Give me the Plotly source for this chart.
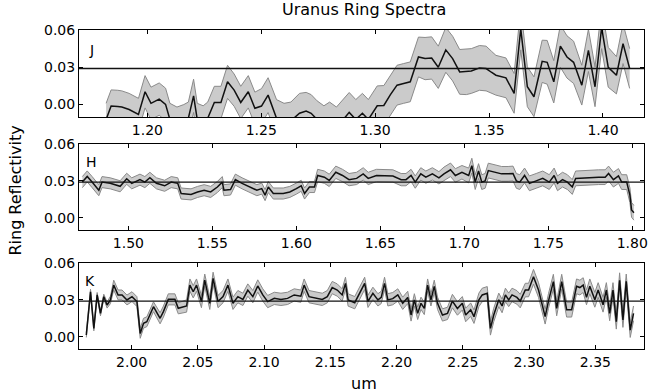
import plotly.graph_objects as go

# ---------------- J band ----------------
j_wave = [1.1819, 1.1841, 1.1870, 1.1888, 1.1920, 1.1961, 1.1990, 1.2016, 1.2052, 1.2080,
          1.2099, 1.2130, 1.2160, 1.2180, 1.2203, 1.2219, 1.2245, 1.2265, 1.2294, 1.2323,
          1.2352, 1.2381, 1.2410, 1.2443, 1.2472, 1.2501, 1.2530, 1.2567, 1.2600, 1.2630,
          1.2668, 1.2697, 1.2719, 1.2745, 1.2775, 1.2800, 1.2830, 1.2860, 1.2886, 1.2915,
          1.2944, 1.2970, 1.3009, 1.3038, 1.3067, 1.3096, 1.3125, 1.3154, 1.3190, 1.3219,
          1.3248, 1.3277, 1.3310, 1.3340, 1.3371, 1.3400, 1.3422, 1.3458, 1.3487, 1.3510,
          1.3530, 1.3574, 1.3610, 1.3639, 1.3668, 1.3697, 1.3733, 1.3755, 1.3784, 1.3813,
          1.3842, 1.3871, 1.3907, 1.3936, 1.3965, 1.3994, 1.4023, 1.4059, 1.4088, 1.4117]
j_refl = [-0.012, -0.0012, -0.0015, -0.002, -0.004, -0.008, 0.0103, 0.001, 0.0044, 0.0002,
          -0.012, -0.015, -0.013, -0.011, 0.007, -0.012, -0.014, -0.011, 0.0017, 0.0017,
          0.0183, 0.0116, 0.0017, 0.0103, -0.003, -0.0012, 0.0076, -0.011, -0.014, -0.013,
          -0.007, -0.0052, -0.007, -0.012, -0.016, -0.013, -0.017, -0.012, -0.0063, -0.012,
          -0.007, -0.012, -0.001, -0.0007, 0.008, 0.0156, 0.017, 0.0183, 0.0383, 0.037,
          0.0375, 0.030, 0.044, 0.037, 0.0263, 0.0265, 0.027, 0.0295, 0.029, 0.026,
          0.0236, 0.0215, 0.009, 0.061, 0.0143, 0.0063, 0.0348, 0.034, 0.0183, 0.047,
          0.0383, 0.034, 0.0156, 0.0436, 0.0143, 0.062, 0.030, 0.0236, 0.049, 0.029]
j_err = [0.013, 0.013, 0.013, 0.013, 0.013, 0.013, 0.013, 0.013, 0.013, 0.013,
         0.013, 0.013, 0.013, 0.013, 0.0134, 0.013, 0.013, 0.013, 0.013, 0.013,
         0.0133, 0.013, 0.013, 0.013, 0.013, 0.014, 0.014, 0.015, 0.015, 0.015,
         0.016, 0.015, 0.015, 0.015, 0.015, 0.015, 0.015, 0.016, 0.016, 0.016,
         0.016, 0.016, 0.016, 0.016, 0.016, 0.016, 0.016, 0.016, 0.016, 0.017,
         0.017, 0.017, 0.018, 0.018, 0.018, 0.0185, 0.018, 0.018, 0.018, 0.017,
         0.016, 0.016, 0.016, 0.017, 0.016, 0.016, 0.017, 0.0176, 0.017, 0.017,
         0.017, 0.017, 0.016, 0.017, 0.016, 0.017, 0.016, 0.015, 0.016, 0.016]

# ---------------- H band ----------------
h_wave = [1.4726, 1.4755, 1.4784, 1.4824, 1.4843, 1.4892, 1.4951, 1.4990, 1.5020, 1.5069,
          1.5098, 1.5128, 1.5167, 1.5216, 1.5255, 1.5294, 1.5314, 1.5373, 1.5412, 1.5451,
          1.5490, 1.5530, 1.5559, 1.5569, 1.5608, 1.5637, 1.5677, 1.5726, 1.5765, 1.5794,
          1.5814, 1.5833, 1.5863, 1.5922, 1.5961, 1.6000, 1.6029, 1.6049, 1.6078, 1.6108,
          1.6127, 1.6167, 1.6196, 1.6235, 1.6275, 1.6314, 1.6359, 1.6398, 1.6428, 1.6477,
          1.6526, 1.6575, 1.6624, 1.6653, 1.6683, 1.6708, 1.6741, 1.6771, 1.6810, 1.6849,
          1.6879, 1.6918, 1.6947, 1.6986, 1.7026, 1.7045, 1.7065, 1.7085, 1.7104, 1.7124,
          1.7143, 1.7183, 1.7222, 1.7261, 1.7290, 1.7310, 1.7330, 1.7359, 1.7388, 1.7428,
          1.7467, 1.7506, 1.7535, 1.7555, 1.7585, 1.7614, 1.7643, 1.7663, 1.7712, 1.7751,
          1.7800, 1.7839, 1.7859, 1.7888, 1.7918, 1.7937, 1.7967, 1.7986, 1.7996, 1.8010]
h_refl = [0.029, 0.0336, 0.029, 0.0224, 0.029, 0.028, 0.0256, 0.0317, 0.028, 0.031,
          0.029, 0.0325, 0.028, 0.026, 0.029, 0.028, 0.0197, 0.019, 0.021, 0.0224,
          0.021, 0.025, 0.029, 0.0224, 0.023, 0.031, 0.028, 0.025, 0.0224, 0.0237,
          0.0184, 0.025, 0.0197, 0.0197, 0.021, 0.0237, 0.026, 0.0197, 0.025, 0.025,
          0.0344, 0.033, 0.0304, 0.037, 0.0344, 0.031, 0.032, 0.0357, 0.032, 0.0344,
          0.034, 0.034, 0.031, 0.031, 0.0344, 0.029, 0.0357, 0.033, 0.0357, 0.0325,
          0.0357, 0.039, 0.0344, 0.037, 0.0344, 0.0424, 0.029, 0.038, 0.029, 0.030,
          0.0384, 0.037, 0.0357, 0.0357, 0.036, 0.030, 0.029, 0.0344, 0.028, 0.030,
          0.032, 0.029, 0.0344, 0.028, 0.031, 0.029, 0.025, 0.032, 0.0325, 0.0325,
          0.033, 0.033, 0.036, 0.031, 0.034, 0.029, 0.029, 0.0184, 0.0064, 0.004]
h_err = [0.0045, 0.0045, 0.0045, 0.0045, 0.0045, 0.0045, 0.0045, 0.0045, 0.0045, 0.0045,
         0.0045, 0.0045, 0.0045, 0.0045, 0.0045, 0.0045, 0.0045, 0.0045, 0.0045, 0.0045,
         0.0045, 0.0045, 0.0045, 0.0045, 0.0045, 0.0045, 0.0045, 0.0045, 0.0045, 0.0045,
         0.0045, 0.0045, 0.0045, 0.0045, 0.0045, 0.0045, 0.0045, 0.0045, 0.0045, 0.0045,
         0.005, 0.005, 0.005, 0.005, 0.005, 0.005, 0.005, 0.005, 0.005, 0.005,
         0.005, 0.005, 0.005, 0.005, 0.005, 0.005, 0.005, 0.005, 0.005, 0.005,
         0.0055, 0.0055, 0.0055, 0.0055, 0.006, 0.006, 0.006, 0.006, 0.006, 0.006,
         0.006, 0.006, 0.006, 0.006, 0.006, 0.006, 0.006, 0.006, 0.006, 0.006,
         0.006, 0.006, 0.006, 0.006, 0.006, 0.006, 0.006, 0.006, 0.006, 0.006,
         0.006, 0.006, 0.006, 0.006, 0.006, 0.006, 0.006, 0.006, 0.006, 0.006]

# ---------------- K band ----------------
k_wave = [1.9658, 1.9690, 1.9715, 1.9740, 1.9765, 1.9790, 1.9815, 1.9840, 1.9865, 1.9898,
          1.9928, 1.9965, 2.0003, 2.0040, 2.0065, 2.0090, 2.0115, 2.0165, 2.0215, 2.0240,
          2.0277, 2.0327, 2.0352, 2.0415, 2.0440, 2.0465, 2.0490, 2.0527, 2.0552, 2.0590,
          2.0615, 2.0652, 2.0690, 2.0727, 2.0765, 2.0802, 2.0840, 2.0877, 2.0915, 2.0952,
          2.0990, 2.1027, 2.1077, 2.1127, 2.1177, 2.1227, 2.1277, 2.1302, 2.1339, 2.1389,
          2.1439, 2.1477, 2.1514, 2.1552, 2.1589, 2.1614, 2.1634, 2.1684, 2.1759, 2.1784,
          2.1821, 2.1859, 2.1884, 2.1909, 2.1934, 2.1971, 2.2009, 2.2046, 2.2084, 2.2109,
          2.2134, 2.2159, 2.2184, 2.2209, 2.2234, 2.2259, 2.2284, 2.2309, 2.2346, 2.2384,
          2.2421, 2.2459, 2.2496, 2.2521, 2.2559, 2.2584, 2.2621, 2.2646, 2.2684, 2.2708,
          2.2733, 2.2771, 2.2796, 2.2821, 2.2846, 2.2871, 2.2908, 2.2933, 2.2971, 2.2996,
          2.3033, 2.3071, 2.3121, 2.3146, 2.3183, 2.3208, 2.3246, 2.3283, 2.3321, 2.3358,
          2.3383, 2.3408, 2.3433, 2.3458, 2.3496, 2.3521, 2.3558, 2.3583, 2.3608, 2.3633,
          2.3658, 2.3683, 2.3708, 2.3733, 2.3763, 2.3788]
k_refl = [0.0014, 0.0366, 0.0068, 0.034, 0.019, 0.0326, 0.0258, 0.0299, 0.042, 0.034,
          0.034, 0.0299, 0.0326, 0.0286, 0.0027, 0.011, 0.0122, 0.0244, 0.015, 0.0204,
          0.0304, 0.0304, 0.0231, 0.025, 0.042, 0.0366, 0.042, 0.0286, 0.046, 0.0272,
          0.0475, 0.0286, 0.0326, 0.042, 0.0272, 0.0326, 0.0304, 0.038, 0.0326, 0.0413,
          0.034, 0.0286, 0.0312, 0.0304, 0.0312, 0.034, 0.033, 0.042, 0.0326, 0.0312,
          0.0304, 0.0326, 0.040, 0.038, 0.034, 0.0434, 0.0299, 0.0277, 0.0434, 0.0288,
          0.0353, 0.030, 0.032, 0.0434, 0.030, 0.031, 0.034, 0.0272, 0.032, 0.0177,
          0.030, 0.019, 0.0272, 0.023, 0.042, 0.030, 0.041, 0.0272, 0.0177, 0.019,
          0.029, 0.023, 0.0272, 0.0177, 0.022, 0.0163, 0.030, 0.034, 0.0353, 0.0068,
          0.0177, 0.030, 0.025, 0.034, 0.030, 0.034, 0.032, 0.029, 0.038, 0.038,
          0.0488, 0.038, 0.0163, 0.029, 0.0448, 0.023, 0.0448, 0.022, 0.022, 0.041,
          0.040, 0.042, 0.032, 0.041, 0.030, 0.038, 0.026, 0.038, 0.019, 0.038,
          0.0122, 0.046, 0.0136, 0.045, 0.0054, 0.019]
k_err = [0.002, 0.002, 0.002, 0.002, 0.002, 0.002, 0.0025, 0.003, 0.004, 0.004,
         0.004, 0.004, 0.004, 0.004, 0.004, 0.004, 0.004, 0.004, 0.0045, 0.0045,
         0.0045, 0.0045, 0.0045, 0.005, 0.005, 0.005, 0.005, 0.005, 0.005, 0.005,
         0.005, 0.005, 0.005, 0.005, 0.005, 0.005, 0.005, 0.005, 0.005, 0.005,
         0.005, 0.005, 0.005, 0.005, 0.005, 0.005, 0.005, 0.005, 0.005, 0.005,
         0.005, 0.005, 0.005, 0.005, 0.005, 0.005, 0.005, 0.005, 0.005, 0.005,
         0.005, 0.005, 0.005, 0.005, 0.005, 0.005, 0.005, 0.005, 0.005, 0.005,
         0.005, 0.005, 0.005, 0.005, 0.005, 0.005, 0.005, 0.005, 0.005, 0.005,
         0.0055, 0.0055, 0.0055, 0.0055, 0.0055, 0.0055, 0.0055, 0.0055, 0.0055, 0.0055,
         0.0055, 0.0055, 0.0055, 0.0055, 0.0055, 0.0055, 0.0055, 0.0055, 0.0055, 0.0055,
         0.006, 0.006, 0.006, 0.006, 0.006, 0.006, 0.006, 0.006, 0.006, 0.006,
         0.006, 0.006, 0.006, 0.006, 0.006, 0.006, 0.006, 0.006, 0.006, 0.006,
         0.006, 0.006, 0.006, 0.006, 0.006, 0.006]

band_names = ["J", "H", "K"]
ring_mean = [0.029, 0.029, 0.029]
x_ranges = [[1.17, 1.418], [1.4706, 1.807], [1.9603, 2.3867]]
x_ticks = [[1.20, 1.25, 1.30, 1.35, 1.40],
           [1.50, 1.55, 1.60, 1.65, 1.70, 1.75, 1.80],
           [2.00, 2.05, 2.10, 2.15, 2.20, 2.25, 2.30, 2.35]]
y_ticks = [0.00, 0.03, 0.06]
y_range = [-0.01, 0.06]
y_domains = [[0.7273, 1.0], [0.373, 0.6426], [0.0, 0.2696]]
label_pos = [(0.0228, 0.937), (0.0228, 0.586), (0.0200, 0.213)]

series = [(j_wave, j_refl, j_err), (h_wave, h_refl, h_err), (k_wave, k_refl, k_err)]

FONT = "DejaVu Sans"
INK = "#000000"
fig = go.Figure()

for i, (wave, refl, err) in enumerate(series):
    suffix = "" if i == 0 else str(i + 1)
    xa, ya = "x" + suffix, "y" + suffix
    upper = [r + e for r, e in zip(refl, err)]
    lower = [r - e for r, e in zip(refl, err)]
    fig.add_trace(go.Scatter(x=wave, y=upper, mode="lines",
                             line=dict(color="#8a8a8a", width=1),
                             xaxis=xa, yaxis=ya, showlegend=False, hoverinfo="skip"))
    fig.add_trace(go.Scatter(x=wave, y=lower, mode="lines",
                             line=dict(color="#8a8a8a", width=1),
                             fill="tonexty", fillcolor="#cbcbcb",
                             xaxis=xa, yaxis=ya, showlegend=False, hoverinfo="skip"))
    fig.add_trace(go.Scatter(x=wave, y=refl, mode="lines",
                             line=dict(color="#111111", width=1.5),
                             xaxis=xa, yaxis=ya, showlegend=False))
    fig.add_shape(type="line", xref=xa + " domain", x0=0, x1=1,
                  yref=ya, y0=ring_mean[i], y1=ring_mean[i],
                  line=dict(color="#111111", width=1.3))
    fig.add_annotation(text=band_names[i], xref="paper", yref="paper",
                       x=label_pos[i][0], y=label_pos[i][1], showarrow=False,
                       xanchor="center", yanchor="middle",
                       font=dict(family=FONT, size=14, color=INK))

    axis_common = dict(showline=True, linecolor="black", linewidth=1, mirror="allticks",
                       ticks="inside", ticklen=4, tickcolor="black", showgrid=False,
                       zeroline=False, tickfont=dict(family=FONT, size=14, color=INK))
    fig.layout["xaxis" + suffix] = dict(domain=[0, 1], anchor=ya, range=x_ranges[i],
                                        tickvals=x_ticks[i],
                                        ticktext=["%.2f" % t for t in x_ticks[i]],
                                        **axis_common)
    fig.layout["yaxis" + suffix] = dict(domain=y_domains[i], anchor=xa, range=y_range,
                                        tickvals=y_ticks,
                                        ticktext=["%.2f" % t for t in y_ticks],
                                        **axis_common)

fig.add_annotation(text="Uranus Ring Spectra", xref="paper", yref="paper",
                   x=0.505, y=1.0627, showarrow=False, yanchor="middle",
                   font=dict(family=FONT, size=16, color=INK))
fig.add_annotation(text="um", xref="paper", yref="paper",
                   x=0.505, y=-0.1066, showarrow=False, yanchor="middle",
                   font=dict(family=FONT, size=16, color=INK))
fig.add_annotation(text="Ring Reflectivity", xref="paper", yref="paper",
                   x=-0.1125, y=0.498, showarrow=False, textangle=-90,
                   xanchor="center", yanchor="middle",
                   font=dict(family=FONT, size=16, color=INK))

fig.update_layout(width=652, height=392, margin=dict(l=79, r=4, t=30, b=43),
                  paper_bgcolor="white", plot_bgcolor="white",
                  font=dict(family=FONT, color=INK))

fig.write_html("out.html")
